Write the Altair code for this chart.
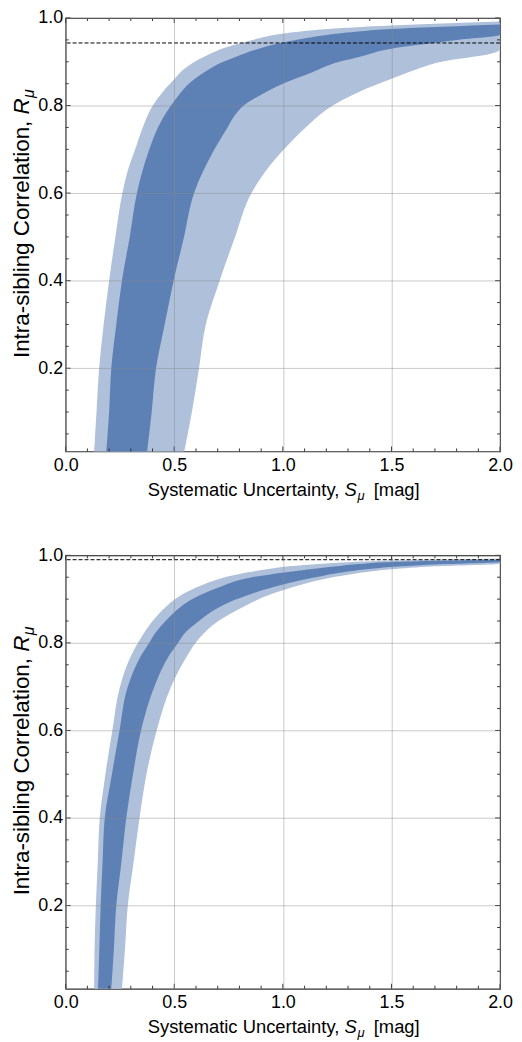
import altair as alt
import pandas as pd

FONT = "Liberation Sans"
W, H = 437, 436
LIGHT = "#AEC0DA"
DARK = "#5E81B5"
FRAME = "#333333"

X_DOMAIN = [0.0, 2.0]
Y_DOMAIN = [0.01, 1.0]

x_major = [0.0, 0.5, 1.0, 1.5, 2.0]
x_minor = [0.1, 0.2, 0.3, 0.4, 0.6, 0.7, 0.8, 0.9, 1.1, 1.2, 1.3, 1.4, 1.6, 1.7, 1.8, 1.9]
y_major = [0.2, 0.4, 0.6, 0.8, 1.0]
y_minor = [0.05, 0.1, 0.15, 0.25, 0.3, 0.35, 0.45, 0.5, 0.55, 0.65, 0.7, 0.75, 0.85, 0.9, 0.95]

# ---- top panel ----
a_outer_y = [0.01, 0.1, 0.2, 0.3, 0.4, 0.5, 0.6, 0.65, 0.7, 0.75, 0.8, 0.83, 0.86, 0.88, 0.9, 0.92, 0.93, 0.94, 0.95, 0.964, 0.975, 0.983, 0.992]
a_outer_lo = [0.131, 0.142, 0.154, 0.175, 0.200, 0.229, 0.261, 0.285, 0.32, 0.355, 0.401, 0.445, 0.50, 0.537, 0.594, 0.673, 0.72, 0.788, 0.862, 0.995, 1.21, 1.5, 2.0]
a_outer_hi = [0.546, 0.581, 0.614, 0.645, 0.709, 0.78, 0.855, 0.92, 1.005, 1.105, 1.23, 1.345, 1.495, 1.60, 1.73, 1.97, 2.0, 2.0, 2.0, 2.0, 2.0, 2.0, 2.0]

a_inner_y = [0.01, 0.1, 0.2, 0.3, 0.4, 0.5, 0.6, 0.7, 0.75, 0.775, 0.8, 0.825, 0.85, 0.875, 0.9, 0.911, 0.93, 0.944, 0.95, 0.962, 0.97, 0.975, 0.98, 0.985]
a_inner_lo = [0.187, 0.200, 0.210, 0.233, 0.259, 0.295, 0.328, 0.385, 0.425, 0.452, 0.485, 0.522, 0.567, 0.635, 0.725, 0.782, 0.89, 1.0, 1.06, 1.209, 1.36, 1.50, 1.74, 2.0]
a_inner_hi = [0.375, 0.396, 0.416, 0.456, 0.497, 0.545, 0.591, 0.685, 0.745, 0.775, 0.82, 0.9, 1.0, 1.13, 1.26, 1.35, 1.5, 1.71, 1.80, 2.0, 2.0, 2.0, 2.0, 2.0]

a_ref = [0.943]

# ---- bottom panel ----
b_outer_y = [0.01, 0.1, 0.2, 0.3, 0.4, 0.5, 0.6, 0.7, 0.772, 0.81, 0.851, 0.885, 0.912, 0.931, 0.945, 0.958, 0.968, 0.975, 0.981, 0.984, 0.988, 0.993]
b_outer_lo = [0.131, 0.133, 0.139, 0.148, 0.157, 0.183, 0.215, 0.250, 0.302, 0.345, 0.402, 0.467, 0.542, 0.623, 0.699, 0.804, 0.925, 1.026, 1.186, 1.3, 1.5, 2.0]
b_outer_hi = [0.259, 0.273, 0.286, 0.313, 0.340, 0.372, 0.419, 0.485, 0.561, 0.614, 0.706, 0.828, 0.95, 1.072, 1.18, 1.33, 1.5, 1.7, 2.0, 2.0, 2.0, 2.0]

b_inner_y = [0.01, 0.1, 0.2, 0.3, 0.4, 0.5, 0.6, 0.7, 0.772, 0.8, 0.825, 0.85, 0.866, 0.9, 0.927, 0.95, 0.965, 0.975, 0.98, 0.985, 0.99]
b_inner_lo = [0.149, 0.155, 0.161, 0.170, 0.180, 0.213, 0.248, 0.286, 0.348, 0.384, 0.416, 0.46, 0.492, 0.584, 0.706, 0.858, 1.072, 1.25, 1.35, 1.5, 2.0]
b_inner_hi = [0.210, 0.222, 0.233, 0.257, 0.279, 0.31, 0.347, 0.408, 0.477, 0.517, 0.553, 0.614, 0.656, 0.789, 0.953, 1.15, 1.33, 1.55, 1.75, 2.0, 2.0]

b_ref = [0.99]

xscale = alt.Scale(domain=X_DOMAIN, nice=False, zero=False)
yscale = alt.Scale(domain=Y_DOMAIN, nice=False, zero=False)

xaxis = alt.Axis(values=x_major, format=".1f", grid=True, gridColor="#888888", gridOpacity=0.45,
                 gridWidth=1, domain=False, ticks=False, tickSize=0, labelPadding=5,
                 labelFont=FONT, labelFontSize=18, labelColor="black", labelFlush=False,
                 labelOverlap=False, title=None, zindex=1)
yaxis = alt.Axis(values=y_major, format=".1f", grid=True, gridColor="#888888", gridOpacity=0.45,
                 gridWidth=1, domain=False, ticks=False, tickSize=0, labelPadding=3,
                 labelFont=FONT, labelFontSize=18, labelColor="black", labelFlush=False,
                 labelOverlap=False, title=None, zindex=1)


def X(field):
    return alt.X(field, scale=xscale, axis=xaxis)


def Y(field):
    return alt.Y(field, scale=yscale, axis=yaxis)


def band(ys, lo, hi, color):
    df = pd.DataFrame({"y": ys, "lo": lo, "hi": hi})
    return alt.Chart(df).mark_area(orient="horizontal", color=color, opacity=1,
                                   interpolate="monotone").encode(
        y=Y("y:Q"), x=X("lo:Q"), x2="hi:Q",
    )


def ref_line(val):
    return alt.Chart(pd.DataFrame({"r": val})).mark_rule(
        color="black", strokeWidth=1, strokeDash=[4, 2]
    ).encode(y=Y("r:Q"))


def xticks(vals, length):
    base = alt.Chart(pd.DataFrame({"v": vals})).mark_rule(color=FRAME, strokeWidth=1)
    return [
        base.encode(x=X("v:Q"), y=alt.value(H), y2=alt.value(H - length)),
        base.encode(x=X("v:Q"), y=alt.value(0), y2=alt.value(length)),
    ]


def yticks(vals, length):
    base = alt.Chart(pd.DataFrame({"v": vals})).mark_rule(color=FRAME, strokeWidth=1)
    return [
        base.encode(y=Y("v:Q"), x=alt.value(0), x2=alt.value(length)),
        base.encode(y=Y("v:Q"), x=alt.value(W), x2=alt.value(W - length)),
    ]


def text(t, x, y, size, italic=False, align="left", angle=0):
    return alt.Chart(pd.DataFrame({"t": [t]})).mark_text(
        align=align, baseline="alphabetic", font=FONT, fontSize=size,
        fontStyle="italic" if italic else "normal", angle=angle, color="black"
    ).encode(text="t:N", x=alt.value(x), y=alt.value(y))


def titles():
    # x title: "Systematic Uncertainty, S_mu [mag]"
    xs = 280.4
    xb = H + 45
    parts = [
        text("Systematic Uncertainty,", xs - 5.1, xb, 18.5, align="right"),
        text("S", xs, xb, 18.5, italic=True),
        text("\u03bc", xs + 13.2, xb + 4, 13, italic=True),
        text("[mag]", xs + 29.5, xb, 18.5),
    ]
    # y title: "Intra-sibling Correlation, R_mu"
    yx = -37
    ys = 97
    fs = 22.5
    parts += [
        text("Intra-sibling Correlation,", yx, ys + 0.278 * fs, fs, align="right", angle=270),
        text("R", yx, ys, fs, italic=True, angle=270),
        text("\u03bc", yx + 5, ys - 0.74 * fs, 16, italic=True, angle=270),
    ]
    return parts


def panel(oy, olo, ohi, iy, ilo, ihi, ref):
    layers = [
        band(oy, olo, ohi, LIGHT),
        band(iy, ilo, ihi, DARK),
        ref_line(ref),
    ]
    layers += xticks(x_major, 5) + xticks(x_minor, 3)
    layers += yticks(y_major, 5) + yticks(y_minor, 3)
    layers += titles()
    return alt.layer(*layers).properties(width=W, height=H)


top = panel(a_outer_y, a_outer_lo, a_outer_hi, a_inner_y, a_inner_lo, a_inner_hi, a_ref)
bottom = panel(b_outer_y, b_outer_lo, b_outer_hi, b_inner_y, b_inner_lo, b_inner_hi, b_ref)

chart = alt.vconcat(top, bottom, spacing=104.5, bounds="flush").properties(
    padding={"left": 2, "top": -3, "right": 0, "bottom": 0}
).configure_view(stroke=FRAME, strokeWidth=1.2)

chart.save("out.html", embed_options={"renderer": "svg", "actions": False})
